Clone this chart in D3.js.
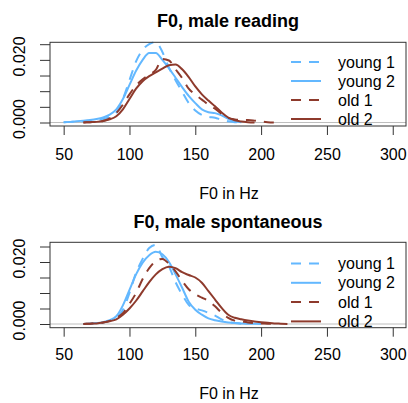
<!DOCTYPE html>
<html lang="en">
<head>
<meta charset="utf-8">
<title>F0 densities</title>
<script src="https://d3js.org/d3.v7.min.js"></script>
<style>
  body { margin: 0; background: #fff; }
  text { font-family: "Liberation Sans", Arial, Helvetica, sans-serif; fill: #000; }
</style>
</head>
<body>
<script>
// Hz grid shared by all curves
var hz = [50, 55, 60, 65, 70, 75, 80, 85, 90, 95, 100, 105, 110, 115, 120, 125, 130, 135,
          140, 145, 150, 155, 160, 165, 170, 175, 180, 185, 190, 195, 200, 205, 210, 215, 220];

var seriesNames = ["young 1", "young 2", "old 1", "old 2"];
var xTicks = [50, 100, 150, 200, 250, 300];
var yTicks = [0, 0.005, 0.01, 0.015, 0.02, 0.025];
var yLabels = ["0.000", "", "", "", "0.020", ""];

// male reading
var readYoung1 = [0.0001, 0.0002, 0.0003, 0.0004, 0.0006, 0.0008, 0.0011, 0.0018, 0.0032, 0.0075, 0.0135, 0.0195, 0.0232, 0.0250, 0.0257, 0.0225, 0.0175, 0.0135,
                  0.0098, 0.0062, 0.0038, 0.0024, 0.0018, 0.0015, 0.0009, 0.0004, 0.0001, 0.0000, null, null, null, null, null, null, null];
var readYoung2 = [0.0001, 0.0002, 0.0004, 0.0006, 0.0008, 0.0011, 0.0016, 0.0025, 0.0042, 0.0075, 0.0120, 0.0165, 0.0200, 0.0222, 0.0222, 0.0200, 0.0173, 0.0143,
                  0.0113, 0.0085, 0.0062, 0.0042, 0.0033, 0.0030, 0.0023, 0.0012, 0.0004, 0.0001, null, null, null, null, null, null, null];
var readOld1 = [null, null, null, 0.0000, 0.0001, 0.0002, 0.0005, 0.0013, 0.0030, 0.0057, 0.0090, 0.0118, 0.0138, 0.0152, 0.0168, 0.0203, 0.0198, 0.0170,
                0.0142, 0.0108, 0.0089, 0.0073, 0.0057, 0.0044, 0.0028, 0.0015, 0.0010, 0.0008, 0.0008, 0.0006, 0.0003, 0.0001, 0.0000, null, null];
var readOld2 = [null, null, null, 0.0000, 0.0001, 0.0002, 0.0005, 0.0010, 0.0020, 0.0042, 0.0075, 0.0108, 0.0132, 0.0148, 0.0160, 0.0172, 0.0183, 0.0185,
                0.0170, 0.0145, 0.0115, 0.0090, 0.0070, 0.0052, 0.0032, 0.0016, 0.0007, 0.0003, 0.0001, 0.0000, null, null, null, null, null];

// male spontaneous
var spontYoung1 = [null, null, null, 0.0000, 0.0001, 0.0002, 0.0005, 0.0010, 0.0020, 0.0045, 0.0100, 0.0165, 0.0210, 0.0245, 0.0255, 0.0215, 0.0185, 0.0135,
                   0.0095, 0.0062, 0.0050, 0.0044, 0.0036, 0.0027, 0.0015, 0.0007, 0.0003, 0.0001, 0.0000, null, null, null, null, null, null];
var spontYoung2 = [null, null, null, 0.0000, 0.0001, 0.0003, 0.0006, 0.0012, 0.0025, 0.0060, 0.0110, 0.0160, 0.0198, 0.0222, 0.0233, 0.0225, 0.0200, 0.0160,
                   0.0117, 0.0072, 0.0046, 0.0030, 0.0018, 0.0012, 0.0008, 0.0005, 0.0003, 0.0002, 0.0001, 0.0001, 0.0000, null, null, null, null];
var spontOld1 = [null, null, null, 0.0000, 0.0001, 0.0002, 0.0005, 0.0010, 0.0020, 0.0035, 0.0065, 0.0100, 0.0145, 0.0180, 0.0203, 0.0210, 0.0194, 0.0170,
                 0.0139, 0.0112, 0.0096, 0.0085, 0.0074, 0.0057, 0.0036, 0.0020, 0.0011, 0.0008, 0.0005, 0.0003, 0.0002, 0.0001, 0.0000, null, null];
var spontOld2 = [null, null, null, 0.0000, 0.0001, 0.0002, 0.0005, 0.0009, 0.0015, 0.0030, 0.0050, 0.0075, 0.0105, 0.0135, 0.0160, 0.0177, 0.0185, 0.0180,
                 0.0167, 0.0158, 0.0150, 0.0133, 0.0106, 0.0079, 0.0052, 0.0030, 0.0020, 0.0015, 0.0011, 0.0008, 0.0006, 0.0004, 0.0002, 0.0001, 0.0000];

var colors = ["#63B8FF", "#63B8FF", "#8E3A2C", "#8E3A2C"];
var dashes = ["10,8", null, "10,8", null];

var w = 408, h = 403;
var svg = d3.select("body").append("svg").attr("width", w).attr("height", h);

var x = d3.scaleLinear().domain([40, 310]).range([50.5, 405.9]);

function panel(title, series, box, y0, y25, titleY, labelY, legendY, legendStep) {
    var y = d3.scaleLinear().domain([0, 0.025]).range([y0, y25]);
    var g = svg.append("g");

    g.append("text").attr("x", 228).attr("y", titleY).attr("text-anchor", "middle")
        .style("font-size", "18px").style("font-weight", "bold").text(title);

    // zero reference line
    g.append("line").attr("x1", box.left).attr("x2", box.right)
        .attr("y1", y(0)).attr("y2", y(0)).attr("stroke", "#bebebe").attr("stroke-width", 1);

    var line = d3.line()
        .defined(function (d) { return d[1] !== null; })
        .x(function (d) { return x(d[0]); })
        .y(function (d) { return y(d[1]); })
        .curve(d3.curveMonotoneX);

    series.forEach(function (s, i) {
        var pts = hz.map(function (v, k) { return [v, s[k]]; });
        g.append("path").attr("d", line(pts)).attr("fill", "none")
            .attr("stroke", colors[i]).attr("stroke-width", 2)
            .attr("stroke-dasharray", dashes[i]);
    });

    // frame
    g.append("rect").attr("x", box.left).attr("y", box.top)
        .attr("width", box.right - box.left).attr("height", box.bottom - box.top)
        .attr("fill", "none").attr("stroke", "#333").attr("stroke-width", 1);

    // x axis
    var xa = g.append("g").attr("transform", "translate(0," + box.bottom + ")")
        .call(d3.axisBottom(x).tickValues(xTicks).tickSize(9).tickFormat(d3.format("d")));
    xa.select(".domain").remove();
    xa.selectAll("line").attr("stroke", "#333");
    xa.selectAll("text").attr("y", null).attr("dy", null)
        .attr("y", labelY - box.bottom).style("font-size", "16px")
        .attr("font-family", null).attr("fill", "#000");

    // y axis
    var ya = g.append("g").attr("transform", "translate(" + box.left + ",0)")
        .call(d3.axisLeft(y).tickValues(yTicks).tickSize(10)
            .tickFormat(function (d, i) { return yLabels[i]; }));
    ya.select(".domain").remove();
    ya.selectAll("line").attr("stroke", "#333");
    ya.selectAll("text").attr("x", null).attr("dy", null)
        .attr("text-anchor", "middle").attr("fill", "#000").attr("font-family", null)
        .style("font-size", "16px")
        .attr("transform", "translate(-25,-4) rotate(-90)");

    // x label
    g.append("text").attr("x", 229).attr("y", labelY + 39).attr("text-anchor", "middle")
        .style("font-size", "16px").text("F0 in Hz");

    // legend
    var lg = g.append("g");
    seriesNames.forEach(function (n, i) {
        var ly = legendY + i * legendStep;
        lg.append("line").attr("x1", 291).attr("x2", 321).attr("y1", ly).attr("y2", ly)
            .attr("stroke", colors[i]).attr("stroke-width", 2).attr("stroke-dasharray", dashes[i]);
        lg.append("text").attr("x", 338).attr("y", ly).attr("dy", "0.35em")
            .style("font-size", "16px").text(n);
    });
}

panel("F0, male reading", [readYoung1, readYoung2, readOld1, readOld2],
    { left: 50, right: 406, top: 42.3, bottom: 126 }, 122.5, 44.2, 26.5, 160, 62, 19);
panel("F0, male spontaneous", [spontYoung1, spontYoung2, spontOld1, spontOld2],
    { left: 50, right: 406, top: 242.3, bottom: 327.7 }, 324, 246.5, 228, 360, 263.5, 19.3);
</script>
</body>
</html>
